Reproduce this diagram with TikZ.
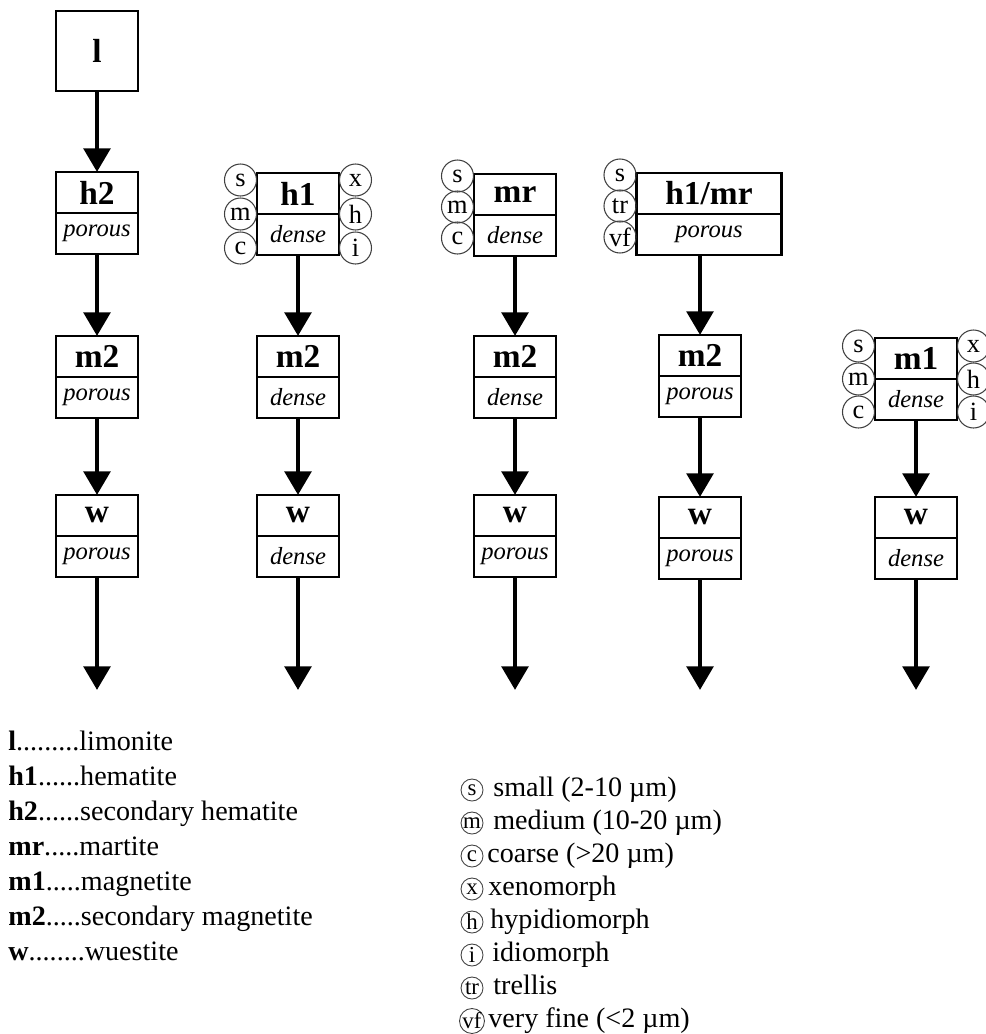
\documentclass[tikz,border=0pt]{standalone}
\usepackage{fontspec}
\setmainfont{Liberation Serif}
\usetikzlibrary{
  arrows.meta,
  positioning,
  calc
}

\begin{document}
\begin{tikzpicture}[
    x=0.02cm, y=-0.02cm,
    mineral/.style={
      rectangle, draw, line width=1.2pt, inner sep=0pt, outer sep=0pt,
      minimum width=1.64cm, minimum height=0.82cm, anchor=north,
      font=\fontsize{19}{19}\selectfont\bfseries
    },
    texture/.style={mineral, font=\fontsize{14}{14}\selectfont\itshape},
    grain/.style={
      circle, draw=black!75, line width=0.6pt, inner sep=0pt,
      minimum size=0.64cm, font=\fontsize{15}{15}\selectfont
    },
    arrow/.style={-{Triangle[length=13.5pt, width=15pt]}, line width=2.8pt},
    key/.style={anchor=base west, inner sep=0pt, font=\fontsize{16}{18}\selectfont},
    keydot/.style={
      circle, draw=black!75, line width=0.5pt, inner sep=0pt,
      minimum size=0.44cm, font=\fontsize{13}{13}\selectfont
    }
  ]
  \useasboundingbox (0,0) rectangle (986,1034);

  % Column 1: limonite path
  \node[mineral, minimum height=1.6cm] (l) at (97,11) {l};
  \node[mineral] (h2) at (97,172) {h2};
  \node[texture, below=0pt of h2] (h2d) {porous};
  \node[mineral] (m2a) at (97,336) {m2};
  \node[texture, below=0pt of m2a] (m2ad) {porous};
  \node[mineral] (wa) at (97,495) {w};
  \node[texture, below=0pt of wa] (wad) {porous};
  \coordinate (ea) at (97,690);

  % Column 2: hematite
  \node[mineral] (h1) at (298,173) {h1};
  \node[texture, below=0pt of h1] (h1d) {dense};
  \node[grain, anchor=east] (h1s) at ($(h1.north west)+(0,7)$) {s};
  \node[grain, anchor=east] (h1m) at ($(h1.north west)+(0,41)$) {m};
  \node[grain, anchor=east] (h1c) at ($(h1.north west)+(0,75)$) {c};
  \node[grain, anchor=west] (h1x) at ($(h1.north east)+(0,7)$) {x};
  \node[grain, anchor=west] (h1h) at ($(h1.north east)+(0,41)$) {h};
  \node[grain, anchor=west] (h1i) at ($(h1.north east)+(0,75)$) {i};
  \node[mineral] (m2b) at (298,336) {m2};
  \node[texture, below=0pt of m2b] (m2bd) {dense};
  \node[mineral] (wb) at (298,495) {w};
  \node[texture, below=0pt of wb] (wbd) {dense};
  \coordinate (eb) at (298,690);

  % Column 3: martite
  \node[mineral] (mr) at (515,174) {mr};
  \node[texture, below=0pt of mr] (mrd) {dense};
  \node[grain, anchor=east] (mrs) at ($(mr.north west)+(0,2)$) {s};
  \node[grain, anchor=east] (mrm) at ($(mr.north west)+(0,33)$) {m};
  \node[grain, anchor=east] (mrc) at ($(mr.north west)+(0,64)$) {c};
  \node[mineral] (m2c) at (515,336) {m2};
  \node[texture, below=0pt of m2c] (m2cd) {dense};
  \node[mineral] (wc) at (515,495) {w};
  \node[texture, below=0pt of wc] (wcd) {porous};
  \coordinate (ec) at (515,690);

  % Column 4: hematite/martite
  \node[mineral, minimum width=2.9cm] (hm) at (709,173) {h1/mr};
  \node[texture, minimum width=2.9cm, below=0pt of hm] (hmd) {porous};
  \node[grain, anchor=east] (hms) at ($(hm.north west)+(0,2)$) {s};
  \node[grain, anchor=east] (hmt) at ($(hm.north west)+(0,33)$) {tr};
  \node[grain, anchor=east] (hmv) at ($(hm.north west)+(0,64)$) {vf};
  \node[mineral] (m2d) at (700,335) {m2};
  \node[texture, below=0pt of m2d] (m2dd) {porous};
  \node[mineral] (wd) at (700,497) {w};
  \node[texture, below=0pt of wd] (wdd) {porous};
  \coordinate (ed) at (700,690);

  % Column 5: magnetite
  \node[mineral] (m1) at (916,338) {m1};
  \node[texture, below=0pt of m1] (m1d) {dense};
  \node[grain, anchor=east] (m1s) at ($(m1.north west)+(0,8)$) {s};
  \node[grain, anchor=east] (m1m) at ($(m1.north west)+(0,41)$) {m};
  \node[grain, anchor=east] (m1c) at ($(m1.north west)+(0,74)$) {c};
  \node[grain, anchor=west] (m1x) at ($(m1.north east)+(0,8)$) {x};
  \node[grain, anchor=west] (m1h) at ($(m1.north east)+(0,41)$) {h};
  \node[grain, anchor=west] (m1i) at ($(m1.north east)+(0,74)$) {i};
  \node[mineral] (we) at (916,497) {w};
  \node[texture, below=0pt of we] (wed) {dense};
  \coordinate (ee) at (916,690);

  % Arrows
  \draw[arrow] (l) -- (h2);
  \draw[arrow] (h2d) -- (m2a);
  \draw[arrow] (m2ad) -- (wa);
  \draw[arrow] (wad) -- (ea);
  \draw[arrow] (h1d) -- (m2b);
  \draw[arrow] (m2bd) -- (wb);
  \draw[arrow] (wbd) -- (eb);
  \draw[arrow] (mrd) -- (m2c);
  \draw[arrow] (m2cd) -- (wc);
  \draw[arrow] (wcd) -- (ec);
  \draw[arrow] (m2d |- hmd.south) -- (m2d);
  \draw[arrow] (m2dd) -- (wd);
  \draw[arrow] (wdd) -- (ed);
  \draw[arrow] (m1d) -- (we);
  \draw[arrow] (wed) -- (ee);

  % Legend: minerals
  \node[key] (kl) at (8,750) {\textbf{l}.........limonite};
  \node[key] (kh1) at (8,785) {\textbf{h1}......hematite};
  \node[key] (kh2) at (8,820) {\textbf{h2}......secondary hematite};
  \node[key] (kmr) at (8,855) {\textbf{mr}.....martite};
  \node[key] (km1) at (8,890) {\textbf{m1}.....magnetite};
  \node[key] (km2) at (8,925) {\textbf{m2}.....secondary magnetite};
  \node[key] (kw) at (8,960) {\textbf{w}........wuestite};

  % Legend: grain size and shape
  \node[keydot] (ls) at (472,790) {s};
  \node[key] (lst) at (493,796) {small (2-10 µm)};
  \node[keydot] (lm) at (472,823) {m};
  \node[key] (lmt) at (493,829) {medium (10-20 µm)};
  \node[keydot] (lc) at (472,856) {c};
  \node[key] (lct) at (487,862) {coarse (>20 µm)};
  \node[keydot] (lx) at (472,889) {x};
  \node[key] (lxt) at (488,895) {xenomorph};
  \node[keydot] (lh) at (472,922) {h};
  \node[key] (lht) at (490,928) {hypidiomorph};
  \node[keydot] (li) at (472,955) {i};
  \node[key] (lit) at (492,961) {idiomorph};
  \node[keydot] (ltr) at (472,988) {tr};
  \node[key] (ltrt) at (493,994) {trellis};
  \node[keydot] (lvf) at (472,1021) {vf};
  \node[key] (lvft) at (488,1027) {very fine (<2 µm)};
\end{tikzpicture}
\end{document}
